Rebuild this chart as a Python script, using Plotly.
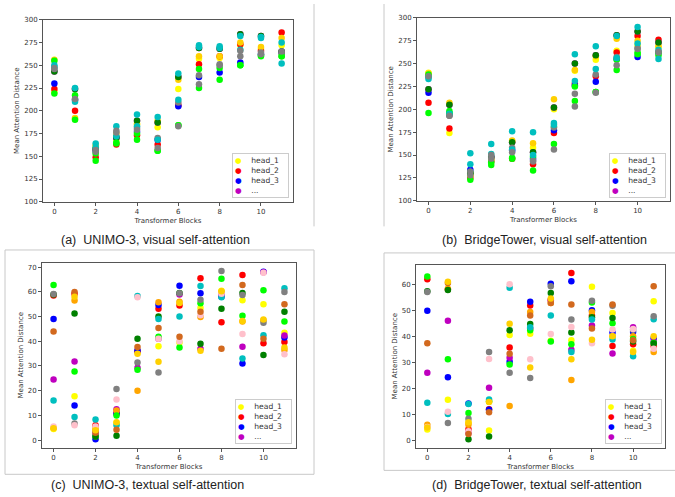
import plotly.graph_objects as go

# ---------------- data ----------------
blocks = list(range(12))
x_ticks = [0, 2, 4, 6, 8, 10]
ticks_visual = [100, 125, 150, 175, 200, 225, 250, 275, 300]
ticks_text_c = [0, 10, 20, 30, 40, 50, 60, 70]
ticks_text_d = [0, 10, 20, 30, 40, 50, 60]

legend_names = ["head_1", "head_2", "head_3", "..."]

# head colours (visual panels; some heads share a colour)
colors_visual = ["#ffff00", "#ff0000", "#0000ff", "#bf00bf", "#ffd000", "#00ff00",
                 "#008000", "#00bfbf", "#808080", "#00ff00", "#00bfbf", "#808080"]
# head colours (textual panels)
colors_textual = ["#ffff00", "#ff0000", "#0000ff", "#bf00bf", "#ffa500", "#00ff00",
                  "#008000", "#00bfbf", "#808080", "#ffc0cb", "#d2691e", "#ffd000"]

# (a) UNIMO-3 visual: one row per block, one value per head
unimo_visual = [
    [221, 224, 230, 243, 256, 255, 243, 250, 246, 219, 248, 247],
    [191, 200, 212, 224, 192, 217, 224, 225, 212, 190, 210, 213],
    [160, 149, 156, 158, 162, 153, 158, 164, 155, 145, 160, 157],
    [168, 163, 170, 171, 175, 164, 171, 183, 178, 165, 172, 176],
    [186, 173, 177, 189, 185, 175, 189, 196, 181, 168, 183, 179],
    [182, 163, 168, 187, 189, 156, 187, 193, 170, 156, 168, 159],
    [224, 206, 205, 237, 234, 184, 237, 241, 209, 184, 212, 183],
    [257, 251, 237, 269, 260, 246, 269, 272, 239, 225, 270, 229],
    [258, 260, 242, 268, 260, 247, 268, 271, 251, 234, 269, 250],
    [272, 273, 253, 284, 275, 250, 284, 267, 266, 250, 282, 260],
    [268, 266, 262, 282, 270, 260, 282, 281, 264, 261, 280, 262],
    [272, 286, 264, 265, 280, 260, 265, 275, 263, 260, 252, 265],
]

# (b) BridgeTower visual
bridge_visual = [
    [240, 207, 218, 222, 239, 196, 222, 233, 236, 238, 235, 236],
    [174, 179, 194, 205, 207, 198, 205, 196, 193, 196, 195, 193],
    [127, 125, 134, 130, 128, 131, 130, 152, 132, 123, 140, 128],
    [145, 143, 147, 148, 146, 142, 148, 162, 146, 139, 151, 150],
    [165, 146, 155, 164, 166, 146, 164, 176, 158, 147, 156, 153],
    [158, 140, 146, 153, 163, 148, 153, 175, 144, 133, 150, 143],
    [200, 174, 177, 202, 211, 181, 202, 185, 180, 162, 183, 156],
    [242, 228, 226, 250, 243, 225, 250, 260, 217, 209, 231, 203],
    [254, 236, 230, 259, 258, 219, 259, 269, 238, 219, 244, 218],
    [264, 262, 255, 281, 277, 254, 281, 280, 257, 243, 256, 248],
    [270, 280, 257, 285, 275, 262, 285, 290, 267, 260, 272, 266],
    [268, 276, 262, 273, 269, 262, 273, 265, 263, 259, 255, 262],
]

# (c) UNIMO-3 textual
unimo_textual = [
    [4.5, 58.5, 49.0, 24.5, 5.0, 62.8, 59.0, 16.0, 59.2, 5.5, 44.0, 4.8],
    [17.8, 59.3, 14.0, 31.8, 56.5, 27.8, 51.3, 9.3, 6.7, 6.0, 60.0, 58.0],
    [5.0, 6.0, 0.3, 2.5, 4.5, 1.5, 1.5, 8.3, 3.5, 5.5, 3.0, 4.0],
    [7.0, 11.0, 10.7, 12.5, 12.0, 10.0, 1.8, 6.0, 20.7, 16.4, 4.2, 7.2],
    [35.5, 36.0, 36.3, 29.3, 20.0, 28.5, 41.0, 58.3, 31.4, 57.8, 37.7, 35.0],
    [38.0, 53.2, 54.7, 41.0, 55.8, 41.8, 50.0, 49.0, 27.4, 41.0, 45.4, 31.7],
    [39.5, 54.5, 62.5, 59.0, 56.0, 37.5, 59.6, 50.0, 59.5, 40.0, 41.8, 55.5],
    [53.5, 65.5, 59.5, 37.0, 49.8, 55.4, 39.0, 62.4, 56.8, 50.5, 52.0, 36.2],
    [60.5, 47.7, 58.0, 59.0, 60.0, 65.3, 53.2, 57.8, 68.5, 59.3, 37.0, 60.3],
    [56.6, 66.8, 31.0, 37.8, 48.0, 50.3, 59.6, 33.0, 58.7, 43.0, 62.8, 48.2],
    [55.0, 39.2, 68.2, 68.0, 48.5, 60.7, 34.5, 42.5, 47.5, 67.8, 41.0, 48.8],
    [43.5, 39.7, 41.5, 42.3, 36.5, 48.0, 52.0, 61.5, 60.0, 34.8, 55.0, 37.5],
]

# (d) BridgeTower textual
bridge_textual = [
    [4.2, 61.9, 49.8, 26.0, 6.0, 63.0, 57.3, 14.5, 57.0, 5.2, 37.3, 5.0],
    [15.6, 58.0, 24.3, 46.0, 58.3, 31.2, 57.8, 10.2, 6.7, 11.0, 60.5, 61.0],
    [6.8, 4.3, 14.2, 3.0, 6.0, 10.5, 0.5, 14.0, 8.3, 3.5, 2.5, 7.0],
    [3.8, 12.0, 11.8, 20.2, 15.0, 15.0, 1.5, 15.7, 34.0, 31.3, 10.8, 14.8],
    [40.5, 35.7, 30.2, 31.8, 13.2, 29.2, 42.3, 58.7, 26.0, 60.0, 33.3, 44.8],
    [41.0, 51.8, 53.3, 43.0, 49.3, 42.3, 44.7, 43.5, 24.0, 31.2, 48.0, 28.0],
    [38.3, 54.0, 60.2, 53.8, 52.8, 38.0, 56.6, 48.0, 59.2, 40.9, 52.8, 54.5],
    [38.5, 64.3, 61.2, 34.8, 23.2, 37.0, 41.5, 34.0, 46.5, 43.6, 52.2, 31.2],
    [59.0, 48.0, 50.0, 44.2, 49.3, 53.0, 47.3, 46.5, 53.7, 37.3, 43.0, 38.7],
    [49.0, 36.3, 41.5, 33.4, 40.0, 45.0, 47.0, 38.8, 51.7, 42.6, 52.2, 40.0],
    [34.5, 37.0, 41.7, 43.5, 40.0, 39.0, 38.0, 32.3, 42.5, 42.8, 38.5, 34.0],
    [53.5, 36.3, 39.3, 38.0, 34.0, 37.5, 37.2, 46.6, 47.7, 35.2, 59.2, 40.0],
]

captions = [
    "(a)  UNIMO-3, visual self-attention",
    "(b)  BridgeTower, visual self-attention",
    "(c)  UNIMO-3, textual self-attention",
    "(d)  BridgeTower, textual self-attention",
]

# ---------------- layout geometry ----------------
W, H = 675, 497


def px_dom_x(a, b):
    return [a / W, b / W]


def px_dom_y(top, bottom):
    return [1 - bottom / H, 1 - top / H]


panels = [
    dict(data=unimo_visual, colors=colors_visual, xd=px_dom_x(43, 293), yd=px_dom_y(16, 201),
         yr=[100, 300], yt=ticks_visual, lx=289, ly=197),
    dict(data=bridge_visual, colors=colors_visual, xd=px_dom_x(417, 670), yd=px_dom_y(14, 200),
         yr=[100, 300], yt=ticks_visual, lx=666, ly=197),
    dict(data=unimo_textual, colors=colors_textual, xd=px_dom_x(42, 296), yd=px_dom_y(263, 451),
         yr=[-3.1, 71.8], yt=ticks_text_c, lx=292, ly=447),
    dict(data=bridge_textual, colors=colors_textual, xd=px_dom_x(416, 665), yd=px_dom_y(265, 451),
         yr=[-2.8, 67.5], yt=ticks_text_d, lx=662, ly=447),
]

fig = go.Figure()
tick_font = dict(family="DejaVu Sans", size=7, color="#333333")
layout = dict(
    width=W, height=H, margin=dict(l=0, r=0, t=0, b=0),
    paper_bgcolor="white", plot_bgcolor="white", showlegend=False,
)

for i, p in enumerate(panels):
    n = "" if i == 0 else str(i + 1)
    xa, ya = "x" + n, "y" + n
    for h in range(12):
        vals = [row[h] for row in p["data"]]
        fig.add_trace(go.Scatter(
            x=blocks, y=vals, mode="markers", xaxis=xa, yaxis=ya,
            name="head_%d" % (h + 1),
            marker=dict(size=6.5, color=p["colors"][h], line=dict(width=0)),
        ))
    layout["xaxis" + n] = dict(
        domain=p["xd"], anchor=ya, range=[-0.55, 11.55], tickvals=x_ticks,
        showline=True, mirror=True, linecolor="#555555", linewidth=1,
        ticks="outside", ticklen=3, tickcolor="#555555", showgrid=False, zeroline=False,
        tickfont=tick_font,
        title=dict(text="Transformer Blocks", font=tick_font, standoff=2),
    )
    layout["yaxis" + n] = dict(
        domain=p["yd"], anchor=xa, range=p["yr"], tickvals=p["yt"],
        showline=True, mirror=True, linecolor="#555555", linewidth=1,
        ticks="outside", ticklen=3, tickcolor="#555555", showgrid=False, zeroline=False,
        tickfont=tick_font,
        title=dict(text="Mean Attention Distance", font=tick_font, standoff=3),
    )

fig.update_layout(**layout)

# compact legend box (head_1, head_2, head_3, ...) in the lower right of each panel
nb = "\u00a0"
for p in panels:
    lines = []
    for k, name in enumerate(legend_names):
        lines.append("<span style='color:%s'>\u25cf</span>%s%s" % (p["colors"][k], nb * 4, name + nb * 3))
    fig.add_annotation(
        text="<br>".join(lines), xref="paper", yref="paper",
        x=p["lx"] / W, y=1 - p["ly"] / H, xanchor="right", yanchor="bottom",
        align="left", showarrow=False,
        font=dict(family="DejaVu Sans", size=7.6, color="#333333"),
        bgcolor="rgba(255,255,255,0.8)", bordercolor="#cccccc", borderwidth=1, borderpad=2,
    )

# panel frames
frame = dict(color="#c8c8c8", width=1)
fig.add_shape(type="line", xref="paper", yref="paper", x0=314 / W, x1=314 / W, y0=1, y1=1 - 226 / H, line=frame)
fig.add_shape(type="line", xref="paper", yref="paper", x0=384 / W, x1=384 / W, y0=1, y1=1 - 226 / H, line=frame)
fig.add_shape(type="rect", xref="paper", yref="paper", x0=5 / W, x1=314 / W, y0=1 - 478 / H, y1=1 - 250 / H,
              line=frame, fillcolor="rgba(0,0,0,0)", layer="below")
fig.add_shape(type="rect", xref="paper", yref="paper", x0=384 / W, x1=1.01, y0=1 - 474 / H, y1=1 - 253 / H,
              line=frame, fillcolor="rgba(0,0,0,0)", layer="below")

cap_pos = [(155, 240), (544, 240), (147, 489), (537, 489)]
for txt, (cx, cy) in zip(captions, cap_pos):
    fig.add_annotation(text=txt, xref="paper", yref="paper", x=cx / W, y=1 - cy / H,
                       xanchor="center", yanchor="middle", showarrow=False,
                       font=dict(family="Liberation Sans", size=12.5, color="#222222"))

fig.write_html("out.html", config={"displayModeBar": False},
               post_script="document.body.style.margin='0';")
